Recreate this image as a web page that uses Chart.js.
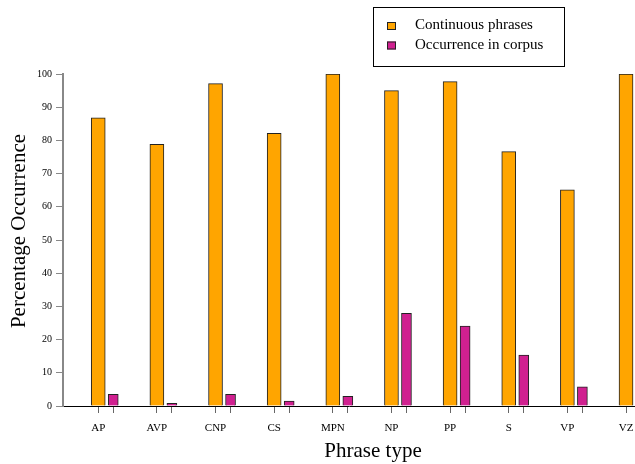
<!DOCTYPE html>
<html><head><meta charset="utf-8">
<script src="https://cdn.jsdelivr.net/npm/chart.js@4/dist/chart.umd.min.js"></script>
<style>html,body{margin:0;padding:0;background:#fff}canvas{display:block}</style>
</head><body>
<canvas id="c" width="635" height="464"></canvas>
<script>
// ---- data ----
const categories = ['AP', 'AVP', 'CNP', 'CS', 'MPN', 'NP', 'PP', 'S', 'VP', 'VZ'];
const continuousPhrases = [86.8, 78.8, 97.1, 82.1, 100, 95.0, 97.7, 76.6, 65.1, 100];
const corpusOccurrence = [3.5, 0.8, 3.5, 1.5, 2.9, 27.9, 24.1, 15.3, 5.8, 0];
const seriesLabels = ['Continuous phrases', 'Occurrence in corpus'];
const yTickValues = [0, 10, 20, 30, 40, 50, 60, 70, 80, 90, 100];
const xTitle = 'Phrase type';
const yTitle = 'Percentage Occurrence';

// ---- layout / style ----
const SHIFT = 0.256;           // second bar offset within a category
const COLORS = ['#FFA500', '#D02090'];
const SERIF = '"Liberation Serif", "Times New Roman", serif';

const orangePts = categories.map((c, i) => ({x: i, y: continuousPhrases[i]}));
const magentaPts = categories.map((c, i) => ({x: i + SHIFT, y: corpusOccurrence[i]}));

const framePlugin = {
  id: 'frame',
  afterDraw(chart) {
    const ctx = chart.ctx;
    ctx.save();
    ctx.strokeStyle = '#000';
    ctx.lineWidth = 1;
    ctx.strokeRect(373.5, 7.5, 191, 59);
    seriesLabels.forEach((lab, k) => {
      const y = 22 + k * 19.5;
      ctx.fillStyle = COLORS[k];
      ctx.fillRect(387, y, 9, 8);
      ctx.strokeStyle = '#222';
      ctx.strokeRect(387.5, y + 0.5, 8, 7);
      ctx.fillStyle = '#000';
      ctx.font = '15px ' + SERIF;
      ctx.textBaseline = 'alphabetic';
      ctx.textAlign = 'left';
      ctx.fillText(lab, 415, y + 7);
    });
    ctx.font = '21px ' + SERIF;
    ctx.fillStyle = '#000';
    ctx.textAlign = 'center';
    ctx.textBaseline = 'alphabetic';
    ctx.fillText(xTitle, 373, 457);
    ctx.translate(25, 231);
    ctx.rotate(-Math.PI / 2);
    ctx.fillText(yTitle, 0, 0);
    ctx.restore();
  }
};

new Chart(document.getElementById('c'), {
  type: 'bar',
  data: {
    datasets: [
      {label: seriesLabels[0], data: orangePts, backgroundColor: COLORS[0], borderColor: '#222', borderWidth: 1, maxBarThickness: 14},
      {label: seriesLabels[1], data: magentaPts, backgroundColor: COLORS[1], borderColor: '#222', borderWidth: 1, maxBarThickness: 10}
    ]
  },
  options: {
    responsive: false,
    animation: false,
    devicePixelRatio: 1,
    grouped: false,
    categoryPercentage: 1,
    barPercentage: 1,
    layout: {padding: {top: 74, left: 0, right: 0, bottom: 0}},
    plugins: {legend: {display: false}, tooltip: {enabled: false}},
    scales: {
      x: {
        type: 'linear',
        offset: false,
        min: -0.601,
        max: 9.153,
        afterBuildTicks(scale) {
          const t = [];
          categories.forEach((c, i) => {
            t.push({value: i});
            if (i + SHIFT <= scale.max) t.push({value: i + SHIFT});
          });
          scale.ticks = t;
        },
        afterFit(scale) { scale.height = 58; scale.paddingLeft = 0; scale.paddingRight = 0; },
        ticks: {
          autoSkip: false, maxRotation: 0, minRotation: 0, padding: 9,
          color: '#000', font: {family: SERIF, size: 11},
          callback: (v) => Number.isInteger(v) ? categories[v] : ''
        },
        grid: {offset: false, drawOnChartArea: false, drawTicks: true, tickLength: 7, color: '#666'},
        border: {color: '#000', width: 1}
      },
      y: {
        min: 0, max: 100,
        afterBuildTicks(scale) { scale.ticks = yTickValues.map(v => ({value: v})); },
        afterFit(scale) { scale.width = 63; },
        ticks: {padding: 4, color: '#000', font: {family: SERIF, size: 10}},
        grid: {drawOnChartArea: false, drawTicks: true, tickLength: 7, color: '#888'},
        border: {color: '#888', width: 2}
      }
    }
  },
  plugins: [framePlugin]
});
</script>
</body></html>
